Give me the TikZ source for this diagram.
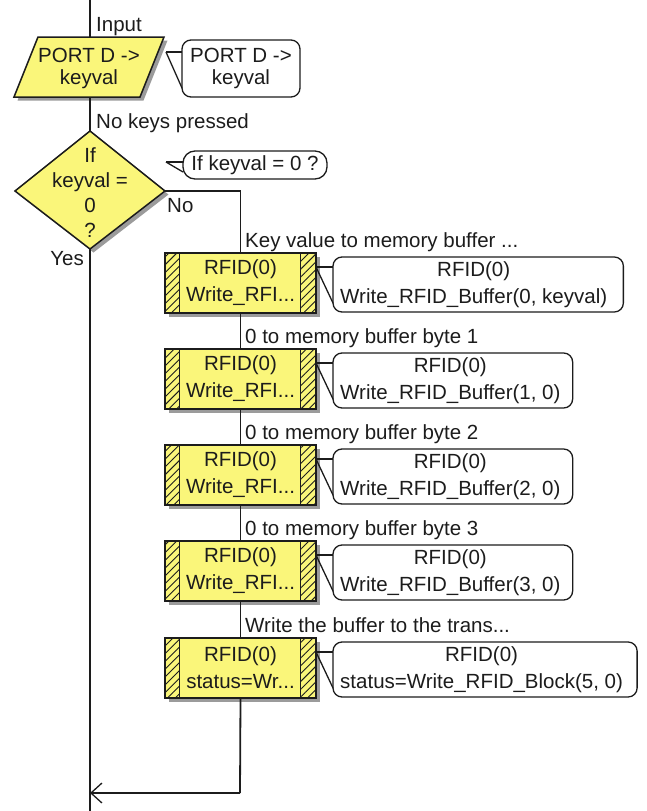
\documentclass[tikz,border=0pt]{standalone}
\usepackage{fontspec}
\setmainfont{Liberation Sans}
\usetikzlibrary{arrows.meta,patterns.meta,shadows}
\definecolor{fcyel}{RGB}{250,246,122}
\definecolor{fcshadow}{RGB}{155,155,155}
\definecolor{fcink}{RGB}{28,28,28}
\begin{document}
\begin{tikzpicture}[x=1pt,y=-1pt,
  every node/.style={font=\fontsize{20.5}{27}\selectfont, text=fcink, inner sep=0pt},
  conn/.style={draw=fcink, line width=1.8pt},
  shapeline/.style={draw=fcink, line width=1.5pt, fill=fcyel},
  shade/.style={fill=fcshadow},
  callbox/.style={shapeline, minimum width=151pt, minimum height=60pt, align=center,
    drop shadow={shadow xshift=3.5pt, shadow yshift=-3.5pt, opacity=1, fill=fcshadow}},
  hatch/.style={draw=fcink, line width=1.2pt, pattern={Lines[angle=45,distance=5.5pt,line width=0.9pt]}, pattern color=fcink},
  bframe/.style={draw=fcink, line width=1.3pt, rounded corners=9pt, fill=white},
  ptr/.style={draw=fcink, line width=1.3pt},
  lbl/.style={anchor=base west},
]
\useasboundingbox (0,0) rectangle (647,811);

% ---------- main line coordinates
\coordinate (mtop) at (90,0);
\coordinate (mbot) at (90,811);

% ---------- input parallelogram
\node[lbl] (lInput) at (96,31) {Input};
\fill[shade] (41.5,40.5) -- (167.5,40.5) -- (143.5,100.5) -- (17.5,100.5) -- cycle;
\draw[shapeline] (38,37) -- (164,37) -- (140,97) -- (14,97) -- cycle;
\coordinate (inT) at (90,37);
\coordinate (inB) at (90,97);
\node[align=center, font=\fontsize{20.5}{22}\selectfont] (inp) at (89,68) {PORT D ->\\keyval};

% comment bubble of input
\draw[bframe] (182,40) rectangle (300,97);
\node[align=center, font=\fontsize{20.5}{22}\selectfont] (cin) at (241,68.5) {PORT D ->\\keyval};
\coordinate (pinA) at (166,52);
\draw[ptr] (pinA) -- (182,52);
\draw[ptr] (pinA) -- (182,88);

\node[lbl] (lNoKeys) at (96,128) {No keys pressed};

% ---------- decision diamond
\fill[shade] (93.5,134.5) -- (168.5,194.5) -- (93.5,252.5) -- (18.5,194.5) -- cycle;
\draw[shapeline] (90,131) -- (165,191) -- (90,249) -- (15,191) -- cycle;
\coordinate (dT) at (90,131);
\coordinate (dR) at (165,191);
\coordinate (dB) at (90,249);
\node[align=center, font=\fontsize{20.5}{25}\selectfont] (dec) at (90,193) {If\\keyval =\\0\\?};

% comment bubble of decision
\draw[bframe, rounded corners=12pt] (183,151) rectangle (327,179);
\node (cdec) at (255,165) {If keyval = 0 ?};
\coordinate (pdA) at (166,162);
\draw[ptr] (pdA) -- (183,162);
\draw[ptr] (pdA) -- (183,172);

\node[lbl] (lNo) at (167,212) {No};
\node[anchor=base east] (lYes) at (84,265) {Yes};

% ---------- call boxes with comments
\foreach \i/\T/\lab/\sec/\ctext/\pad in {
  1/253/{Key value to memory buffer ...}/{Write\_RFI...}/{Write\_RFID\_Buffer(0, keyval)}/16,
  2/349/{0 to memory buffer byte 1}/{Write\_RFI...}/{Write\_RFID\_Buffer(1, 0)}/12,
  3/445/{0 to memory buffer byte 2}/{Write\_RFI...}/{Write\_RFID\_Buffer(2, 0)}/12,
  4/541/{0 to memory buffer byte 3}/{Write\_RFI...}/{Write\_RFID\_Buffer(3, 0)}/12,
  5/638/{Write the buffer to the trans...}/{status=Wr...}/{status=Write\_RFID\_Block(5, 0)}/14}{
  \node[lbl] (lab\i) at (245,\T-6) {\lab};
  \node[callbox] (b\i) at (240.5,\T+30) {RFID(0)\\\sec};
  \path[hatch] (b\i.north west) rectangle ([xshift=15pt]b\i.south west);
  \path[hatch] ([xshift=-16pt]b\i.north east) rectangle (b\i.south east);
  \node[align=center, anchor=west] (c\i) at (340,\T+31.5) {\phantom{RFID(0)}\\\phantom{\ctext}};
  \draw[bframe] (333,\T+4) rectangle ([xshift=\pad pt]c\i.east |- 0,\T+59);
  \node[align=center, anchor=west] (ct\i) at (340,\T+31.5) {RFID(0)\\\ctext};
  \coordinate (pA\i) at (316,\T+14);
  \draw[ptr] (pA\i) -- (333,\T+14);
  \draw[ptr] (pA\i) -- (333,\T+50);
}

% ---------- connectors
\coordinate (lb) at (240,793);
\coordinate (la) at (90,793);
\draw[conn] (mtop) -- (inT);
\draw[conn] (inB) -- (dT);
\draw[conn] (dB) -- (mbot);
\draw[conn] (dR) -| (b1.north);
\draw[conn] (b1.south) -- (b2.north);
\draw[conn] (b2.south) -- (b3.north);
\draw[conn] (b3.south) -- (b4.north);
\draw[conn] (b4.south) -- (b5.north);
\draw[conn] (b5.south) -- (lb);
\draw[conn, -{Straight Barb[length=11pt,width=20pt,line width=1.3pt]}] (lb) -- (la);
\end{tikzpicture}
\end{document}
